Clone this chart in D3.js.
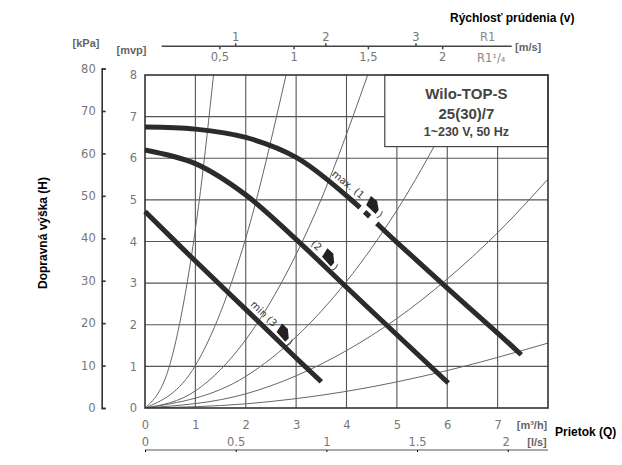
<!DOCTYPE html>
<html>
<head>
<meta charset="utf-8">
<script src="https://cdn.jsdelivr.net/npm/d3@7"></script>
<style>
  body { margin: 0; background: #fff; }
  text { font-family: "DejaVu Sans", sans-serif; }
  .tick text { fill: #777; font-size: 11.5px; }
  .unit { font-family: "Liberation Sans", Arial, sans-serif; font-weight: bold; font-size: 11px; fill: #666; }
  .title { font-family: "Liberation Sans", Arial, sans-serif; font-weight: bold; font-size: 12px; fill: #000; }
  .legend { font-family: "Liberation Sans", Arial, sans-serif; font-weight: bold; fill: #444; }
  .clabel { font-size: 10px; fill: #333; }
</style>
</head>
<body>
<svg id="chart" width="622" height="465"></svg>
<script>
// axis ticks: flow in m3/h and l/s, head in mvp and kPa, velocity in m/s
const flowTicks = [0, 1, 2, 3, 4, 5, 6, 7];
const lsTicks = [0, 0.5, 1, 1.5, 2];
const headTicks = [0, 1, 2, 3, 4, 5, 6, 7, 8];
const kpaTicks = [0, 10, 20, 30, 40, 50, 60, 70, 80];
const velR1Ticks = [1, 2, 3];
const velR114Ticks = [0.5, 1, 1.5, 2];
const qPerVelR1 = 1.79;
const qPerVelR114 = 2.95;

// pump curves (Q m3/h, H mvp)
const maxQ = [0, 1, 2, 3, 4, 5, 6, 7, 7.47];
const maxH = [6.75, 6.7, 6.5, 6.02, 5.1, 3.98, 2.88, 1.8, 1.28];
const midQ = [0, 1, 2, 3, 4, 5, 6.02];
const midH = [6.2, 5.87, 5.12, 4.05, 2.9, 1.76, 0.6];
const minQ = [0, 1, 2, 3, 3.5];
const minH = [4.72, 3.53, 2.37, 1.2, 0.63];

// thin system curves
const sysQ = [
  [0, 0.5, 0.8, 1.1, 1.36],
  [0, 1, 1.5, 2, 2.8],
  [0, 1, 2, 3, 3.5, 4.42],
  [0, 2, 3, 4, 5, 6.48],
  [0, 2, 4, 5, 6, 7, 8],
  [0, 2, 4, 6, 8]
];
const sysH = [
  [0, 1.07, 2.75, 5.2, 8],
  [0, 1.02, 2.3, 4.08, 8],
  [0, 0.41, 1.64, 3.69, 5.02, 8],
  [0, 0.76, 1.71, 3.04, 4.75, 7.98],
  [0, 0.34, 1.38, 2.15, 3.1, 4.21, 5.5],
  [0, 0.1, 0.4, 0.9, 1.56]
];

const svg = d3.select("#chart");
svg.append("rect").attr("width", 622).attr("height", 465).attr("fill", "#fff");

const x = d3.scaleLinear().domain([0, 8]).range([145, 548]);
const y = d3.scaleLinear().domain([0, 8]).range([408, 75]);

svg.append("clipPath").attr("id", "plotclip")
  .append("rect")
  .attr("x", x(0)).attr("y", y(8))
  .attr("width", x(8) - x(0)).attr("height", y(0) - y(8));

// grid
let grid = svg.append("g").attr("stroke", "#555").attr("stroke-width", 1.1);
grid.selectAll("line.v").data(flowTicks.filter(d => d > 0)).join("line")
  .attr("class", "v")
  .attr("x1", d => x(d)).attr("x2", d => x(d))
  .attr("y1", y(0)).attr("y2", y(8));
grid.selectAll("line.h").data(headTicks.filter(d => d > 0 && d < 8)).join("line")
  .attr("class", "h")
  .attr("x1", x(0)).attr("x2", x(8))
  .attr("y1", d => y(d)).attr("y2", d => y(d));

// system curves
let line = d3.line().x(d => x(d[0])).y(d => y(d[1])).curve(d3.curveMonotoneX);
svg.append("g").attr("clip-path", "url(#plotclip)")
  .selectAll("path").data(sysQ.map((qs, i) => qs.map((q, j) => [q, sysH[i][j]])))
  .join("path")
  .attr("d", line)
  .attr("fill", "none")
  .attr("stroke", "#666")
  .attr("stroke-width", 1);

// type box
let bx0 = x(4.76), by1 = y(6.28);
svg.append("rect")
  .attr("x", bx0).attr("y", y(8))
  .attr("width", x(8) - bx0).attr("height", by1 - y(8))
  .attr("fill", "#fff").attr("stroke", "#444").attr("stroke-width", 1.2);
let bcx = (bx0 + x(8)) / 2;
svg.append("text").attr("class", "legend").attr("x", bcx).attr("y", 99)
  .attr("text-anchor", "middle").attr("font-size", 15).text("Wilo-TOP-S");
svg.append("text").attr("class", "legend").attr("x", bcx).attr("y", 119)
  .attr("text-anchor", "middle").attr("font-size", 15).text("25(30)/7");
svg.append("text").attr("class", "legend").attr("x", bcx).attr("y", 136)
  .attr("text-anchor", "middle").attr("font-size", 12.5).text("1~230 V, 50 Hz");

// border
svg.append("rect")
  .attr("x", x(0)).attr("y", y(8))
  .attr("width", x(8) - x(0)).attr("height", y(0) - y(8))
  .attr("fill", "none").attr("stroke", "#333").attr("stroke-width", 1.6);

// pump curves
let pumpLine = d3.line().x(d => x(d[0])).y(d => y(d[1])).curve(d3.curveCatmullRom.alpha(0.5));
function drawCurve(qs, hs) {
  return svg.append("path")
    .datum(qs.map((q, i) => [q, hs[i]]))
    .attr("d", pumpLine)
    .attr("fill", "none")
    .attr("stroke", "#2b2b2b")
    .attr("stroke-width", 5);
}
let pMax = drawCurve(maxQ, maxH);
let pMid = drawCurve(midQ, midH);
let pMin = drawCurve(minQ, minH);

// find the length along a path where it reaches screen x = px
function lenAtX(node, px) {
  let lo = 0, hi = node.getTotalLength();
  for (let i = 0; i < 30; i++) {
    let m = (lo + hi) / 2;
    if (node.getPointAtLength(m).x < px) lo = m; else hi = m;
  }
  return lo;
}

// gap in the max curve where its speed sign sits
let nMax = pMax.node();
let total = nMax.getTotalLength();
let g1 = lenAtX(nMax, x(4.27)), g2 = lenAtX(nMax, x(4.36)),
    g3 = lenAtX(nMax, x(4.46)), g4 = lenAtX(nMax, x(4.6));
pMax.attr("stroke-dasharray", [g1, g2 - g1, g3 - g2, g4 - g3, total].join(" "));

// label placed along a curve
function curveLabel(path, q, parts) {
  let node = path.node();
  let l = lenAtX(node, x(q));
  let a = node.getPointAtLength(l - 3), b = node.getPointAtLength(l + 3);
  let p = node.getPointAtLength(l);
  let ang = Math.atan2(b.y - a.y, b.x - a.x) * 180 / Math.PI;
  let g = svg.append("g").attr("transform", `translate(${p.x},${p.y}) rotate(${ang})`);
  g.append("text").attr("class", "clabel").attr("x", 0).attr("y", -6).text(parts.text);
  g.append("path")
    .attr("transform", `translate(${parts.mark},0)`)
    .attr("d", "M0,-15 L8,-15 L15,-9 L15,-4 L2,-5 Z")
    .attr("fill", "#222");
  g.append("text").attr("class", "clabel").attr("x", parts.mark + 17).attr("y", -3).text(")");
}
curveLabel(pMax, 3.62, { text: "max. (1", mark: 44 });
curveLabel(pMid, 3.2, { text: "(2", mark: 15 });
curveLabel(pMin, 2.0, { text: "min  (3", mark: 36 });

// head axes
svg.append("g")
  .attr("transform", `translate(${x(0)},0)`)
  .call(d3.axisLeft(y).tickValues(headTicks).tickSize(0).tickPadding(8))
  .call(g => g.select(".domain").remove());

const yK = d3.scaleLinear().domain([0, 80]).range([y(0), y(80 / 9.81)]);
svg.append("g")
  .attr("transform", "translate(101.7,0)")
  .call(d3.axisLeft(yK).tickValues(kpaTicks).tickSize(-4).tickPadding(6))
  .call(g => g.selectAll("line, path").attr("stroke", "#333").attr("stroke-width", 1.6));

// flow axes
svg.append("g")
  .attr("transform", `translate(0,${y(0)})`)
  .call(d3.axisBottom(x).tickValues(flowTicks).tickSize(0).tickPadding(13))
  .call(g => g.select(".domain").remove());

const xLs = d3.scaleLinear().domain([0, 1]).range([x(0), x(3.6)]);
svg.append("line")
  .attr("x1", x(0)).attr("x2", x(8)).attr("y1", 450).attr("y2", 450)
  .attr("stroke", "#555").attr("stroke-width", 1.2);
svg.append("g")
  .attr("transform", "translate(0,450)")
  .call(d3.axisTop(xLs).tickValues(lsTicks).tickSize(-2).tickPadding(4)
    .tickFormat(d => String(d)))
  .call(g => g.select(".domain").remove())
  .call(g => g.selectAll(".tick text").filter(d => d === 2).attr("dx", -2));

// velocity scale
const vR1 = d3.scaleLinear().domain([0, 1]).range([x(0), x(qPerVelR1)]);
const vR114 = d3.scaleLinear().domain([0, 1]).range([x(0), x(qPerVelR114)]);
const vy = 46.3;
svg.append("line")
  .attr("x1", 161.7).attr("x2", 511.7).attr("y1", vy).attr("y2", vy)
  .attr("stroke", "#444").attr("stroke-width", 1.4);
svg.append("g")
  .attr("transform", `translate(0,${vy})`)
  .call(d3.axisTop(vR1).tickValues(velR1Ticks).tickSize(3).tickPadding(2)
    .tickFormat(d => String(d)))
  .call(g => g.select(".domain").remove())
  .call(g => g.selectAll(".tick line").attr("stroke", "#444").attr("stroke-width", 1.5));
svg.append("g")
  .attr("transform", `translate(0,${vy})`)
  .call(d3.axisBottom(vR114).tickValues(velR114Ticks).tickSize(3).tickPadding(3.5)
    .tickFormat(d => String(d).replace(".", ",")))
  .call(g => g.select(".domain").remove())
  .call(g => g.selectAll(".tick line").attr("stroke", "#444").attr("stroke-width", 1.5));
svg.append("text").attr("x", vR1(3.8)).attr("y", 41).attr("text-anchor", "middle")
  .attr("fill", "#888").attr("font-size", 11.5).text("R1");
svg.append("text").attr("x", vR114(2.33)).attr("y", 61.5).attr("text-anchor", "middle")
  .attr("fill", "#888").attr("font-size", 11.5).text("R1¹/₄");

// units
svg.append("text").attr("class", "unit").attr("x", 86).attr("y", 47).attr("text-anchor", "middle").text("[kPa]");
svg.append("text").attr("class", "unit").attr("x", 131.5).attr("y", 54).attr("text-anchor", "middle").text("[mvp]");
svg.append("text").attr("class", "unit").attr("x", 515).attr("y", 51).text("[m/s]");
svg.append("text").attr("class", "unit").attr("x", 532).attr("y", 429).attr("text-anchor", "middle").attr("font-size", 10).text("[m³/h]");
svg.append("text").attr("class", "unit").attr("x", 537).attr("y", 446).attr("text-anchor", "middle").attr("font-size", 10).text("[l/s]");

// titles
svg.append("text").attr("class", "title").attr("x", 450).attr("y", 22).text("Rýchlosť prúdenia (v)");
svg.append("text").attr("class", "title").attr("x", 555).attr("y", 436).attr("font-size", 12.5).text("Prietok (Q)");
svg.append("text").attr("class", "title")
  .attr("transform", "translate(47,233) rotate(-90)")
  .attr("text-anchor", "middle").text("Dopravná výška (H)");
</script>
</body>
</html>
